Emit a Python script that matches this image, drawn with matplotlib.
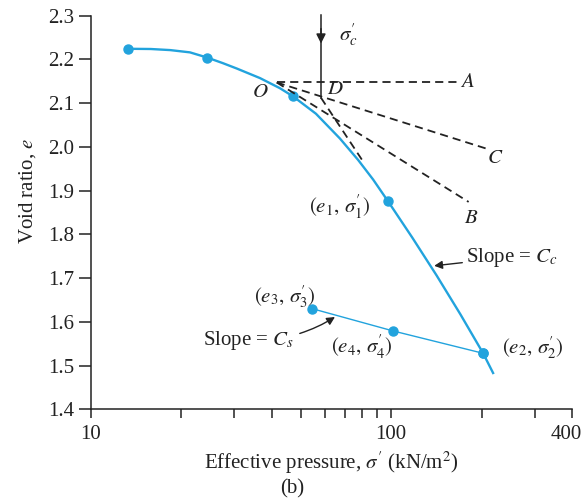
import numpy as np
import matplotlib.pyplot as plt
import matplotlib.transforms as mtransforms
from matplotlib.ticker import FixedLocator, FixedFormatter, NullFormatter

plt.rcParams['font.family'] = ['Liberation Serif', 'DejaVu Serif']
plt.rcParams['mathtext.fontset'] = 'stix'

# loading curve: pressure (kN/m2) and void ratio
curve_p = [13.3, 15.85, 18.4, 21.4, 24.4, 27.5, 30.6, 36.6, 42.6, 47.2, 56.2,
           67.5, 77.6, 87.1, 97.7, 117.5, 141.6, 169.8, 202.3, 218.3]
curve_e = [2.224, 2.2235, 2.221, 2.2158, 2.204, 2.1913, 2.179, 2.157, 2.134, 2.115, 2.0755,
           2.019, 1.970, 1.925, 1.875, 1.7926, 1.706, 1.6175, 1.528, 1.483]

# test points on loading curve
load_p = [13.3, 24.4, 47.2, 97.7, 202.3]
load_e = [2.224, 2.204, 2.115, 1.875, 1.528]

# unloading branch
unload_p = [54.6, 101.6, 202.3]
unload_e = [1.630, 1.579, 1.528]

# Casagrande construction points
O = (41.6, 2.147)
A = (165, 2.147)
C = (207, 1.996)
B = (181, 1.874)
D = (58.4, 2.112)
ext_end = (80.7, 1.966)

blue = '#22a3dd'
txt = '#222222'

fig = plt.figure(figsize=(5.85, 5.01), dpi=100)
ax = fig.add_axes([0.155, 0.183, 0.823, 0.786])

ax.plot(curve_p, curve_e, color=blue, lw=1.7, solid_joinstyle='round')
ax.plot(load_p, load_e, 'o', color=blue, ms=6.5)
ax.plot(unload_p, unload_e, color=blue, lw=1.0)
ax.plot(unload_p, unload_e, 'o', color=blue, ms=6.5)

dash = dict(color='#222222', lw=1.3, ls=(0, (4.5, 2.8)))
ax.plot([O[0], A[0]], [O[1], A[1]], **dash)
ax.plot([O[0], C[0]], [O[1], C[1]], **dash)
ax.plot([O[0], B[0]], [O[1], B[1]], **dash)
ax.plot([D[0], ext_end[0]], [D[1], ext_end[1]], **dash)

# sigma'_c arrow
ax.plot([D[0], D[0]], [2.302, D[1]], color='#222222', lw=1.1, clip_on=False)
ax.annotate('', xy=(D[0], 2.236), xytext=(D[0], 2.27),
            arrowprops=dict(arrowstyle='-|>', color='#222222', lw=1.1,
                            mutation_scale=14, shrinkA=0, shrinkB=0))

fs = 15
ax.text(72, 2.256, r"$\sigma_c'$", fontsize=fs, color=txt, ha='center', va='center')
ax.text(36.6, 2.125, r"$O$", fontsize=fs, color=txt, ha='center', va='center')
ax.text(65, 2.130, r"$D$", fontsize=fs, color=txt, ha='center', va='center')
ax.text(179, 2.148, r"$A$", fontsize=fs, color=txt, ha='center', va='center')
ax.text(222, 1.973, r"$C$", fontsize=fs, color=txt, ha='center', va='center')
ax.text(185, 1.836, r"$B$", fontsize=fs, color=txt, ha='center', va='center')
ax.text(67.5, 1.862, r"$(e_1,\,\sigma_1')$", fontsize=fs, color=txt, ha='center', va='center')
ax.text(44.3, 1.658, r"$(e_3,\,\sigma_3')$", fontsize=fs, color=txt, ha='center', va='center')
ax.text(80, 1.542, r"$(e_4,\,\sigma_4')$", fontsize=fs, color=txt, ha='center', va='center')
ax.text(296, 1.542, r"$(e_2,\,\sigma_2')$", fontsize=fs, color=txt, ha='center', va='center')

ax.annotate(r"Slope = $C_c$", xy=(139, 1.728), xytext=(178, 1.748),
            fontsize=fs, color=txt, ha='left', va='center',
            arrowprops=dict(arrowstyle='-|>', color='#222222', lw=1.0,
                            mutation_scale=12, shrinkA=1, shrinkB=0))
ax.annotate(r"Slope = $C_s$", xy=(65, 1.611), xytext=(23.7, 1.557),
            fontsize=fs, color=txt, ha='left', va='center',
            arrowprops=dict(arrowstyle='-|>', color='#222222', lw=1.0,
                            mutation_scale=12, shrinkA=2, shrinkB=0,
                            connectionstyle='arc3,rad=0.15'))

ax.set_xscale('log')
ax.set_xlim(10, 400)
ax.set_ylim(1.4, 2.3)
ax.xaxis.set_major_locator(FixedLocator([10, 100, 400]))
ax.xaxis.set_major_formatter(FixedFormatter(['10', '100', '400']))
ax.xaxis.set_minor_locator(FixedLocator([20, 30, 40, 50, 60, 70, 80, 90, 200, 300]))
ax.xaxis.set_minor_formatter(NullFormatter())
ax.set_yticks(np.arange(1.4, 2.31, 0.1))
ax.set_yticklabels(['%.1f' % v for v in np.arange(1.4, 2.31, 0.1)])

for s in ['top', 'right']:
    ax.spines[s].set_visible(False)
for s in ['left', 'bottom']:
    ax.spines[s].set_color('#222222')
    ax.spines[s].set_linewidth(1.1)
ax.tick_params(axis='both', which='both', direction='out', width=1.1,
               color='#222222', labelcolor=txt, labelsize=15)
ax.tick_params(axis='x', which='both', length=6.5, pad=5)
ax.tick_params(axis='y', which='both', length=9, pad=3)

# keep the last x label inside the figure
last = ax.get_xticklabels()[-1]
last.set_transform(last.get_transform() +
                   mtransforms.ScaledTranslation(-4 / 72, 0, fig.dpi_scale_trans))

ax.set_xlabel(r"Effective pressure, $\sigma'$ (kN/m$^2$)", fontsize=15, color=txt, labelpad=4)
ax.set_ylabel(r"Void ratio, $e$", fontsize=15, color=txt)
ax.yaxis.set_label_coords(-0.11, 0.555)
fig.text(0.5, 0.025, '(b)', fontsize=15, color=txt, ha='center', va='center')

fig.savefig('out.png', dpi=100)
